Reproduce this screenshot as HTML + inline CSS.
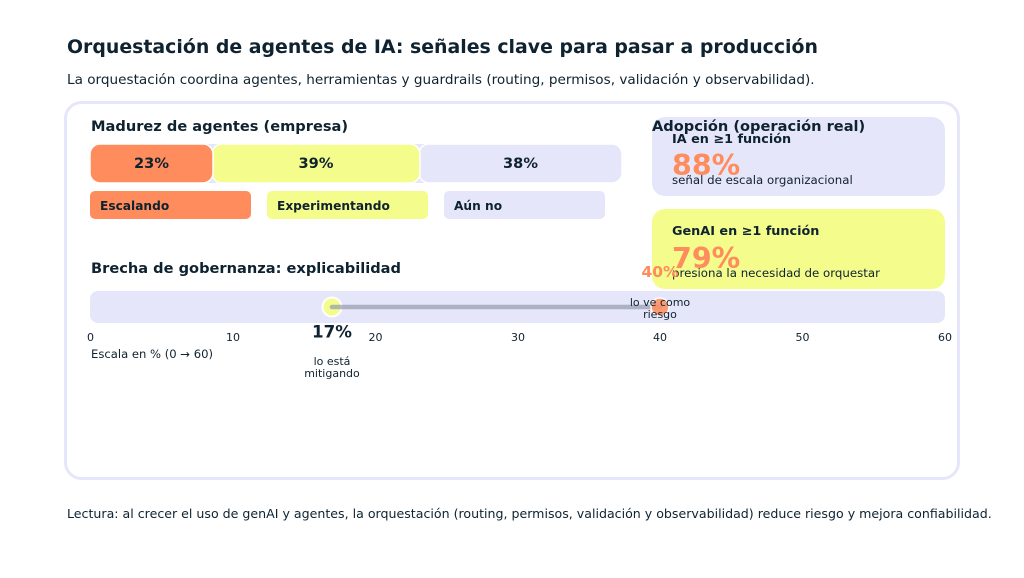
<!DOCTYPE html>
<html><head><meta charset="utf-8">
<style>
html,body{margin:0;padding:0;background:#fff;}
svg{display:block;}
text{font-family:"DejaVu Sans","Liberation Sans",sans-serif;fill:#0e2230;}
.b{font-weight:bold;}
</style></head>
<body>
<svg width="1024" height="578" viewBox="0 0 1024 578" xmlns="http://www.w3.org/2000/svg">
<rect x="0" y="0" width="1024" height="578" fill="#fff"/>
<text class="b" x="67" y="53" font-size="18.9">Orquestación de agentes de IA: señales clave para pasar a producción</text>
<text x="67" y="84" font-size="13.6">La orquestación coordina agentes, herramientas y guardrails (routing, permisos, validación y observabilidad).</text>

<rect x="65.5" y="102.5" width="893" height="376" rx="16" fill="#fff" stroke="#e6e6fa" stroke-width="3"/>

<!-- Madurez -->
<text class="b" x="91" y="131" font-size="14.6">Madurez de agentes (empresa)</text>
<rect x="90" y="144" width="532" height="39" rx="10" fill="#e6e6fa"/>
<rect x="419" y="144" width="203" height="39" rx="10" fill="#e6e6fa" stroke="#fff" stroke-width="1.5"/>
<rect x="212" y="144" width="208" height="39" rx="10" fill="#f4fc8c" stroke="#fff" stroke-width="1.5"/>
<rect x="90" y="144" width="123" height="39" rx="10" fill="#ff8c5c" stroke="#fff" stroke-width="1.5"/>
<text class="b" x="151.5" y="168" font-size="14.6" text-anchor="middle">23%</text>
<text class="b" x="316" y="168" font-size="14.6" text-anchor="middle">39%</text>
<text class="b" x="520.5" y="168" font-size="14.6" text-anchor="middle">38%</text>

<rect x="90" y="191" width="161" height="28" rx="5" fill="#ff8c5c"/>
<rect x="267" y="191" width="161" height="28" rx="5" fill="#f4fc8c"/>
<rect x="444" y="191" width="161" height="28" rx="5" fill="#e6e6fa"/>
<text class="b" x="100" y="210" font-size="12.2">Escalando</text>
<text class="b" x="277" y="210" font-size="12.2">Experimentando</text>
<text class="b" x="454" y="210" font-size="12.2">Aún no</text>

<!-- Adopción cards -->
<rect x="652" y="117" width="293" height="79" rx="13" fill="#e6e6fa"/>
<rect x="652" y="209" width="293" height="80" rx="13" fill="#f4fc8c"/>
<text class="b" x="652" y="131" font-size="14.6">Adopción (operación real)</text>
<text class="b" x="672" y="143" font-size="12.8">IA en ≥1 función</text>
<text class="b" x="672" y="175" font-size="28.5" style="fill:#ff8c5c">88%</text>
<text x="672" y="184" font-size="11.8">señal de escala organizacional</text>
<text class="b" x="672" y="235" font-size="12.8">GenAI en ≥1 función</text>
<text class="b" x="672" y="268" font-size="28.5" style="fill:#ff8c5c">79%</text>
<text x="672" y="277" font-size="11.8">presiona la necesidad de orquestar</text>

<!-- Brecha -->
<text class="b" x="91" y="273" font-size="14.6">Brecha de gobernanza: explicabilidad</text>
<rect x="90" y="291" width="855" height="32" rx="8" fill="#e6e6fa"/>
<circle cx="332" cy="307" r="9.5" fill="#f4fc8c" stroke="#fff" stroke-width="2"/>
<line x1="332" y1="307" x2="660" y2="307" stroke="#98a0b0" stroke-opacity="0.75" stroke-width="4.5" stroke-linecap="round"/>
<circle cx="660" cy="307" r="9" fill="#ff8c5c" fill-opacity="0.85" stroke="#fff" stroke-width="1.5"/>
<text class="b" x="660" y="277" font-size="15.5" text-anchor="middle" style="fill:#ff8c5c">40%</text>
<text x="660" y="306" font-size="11" text-anchor="middle">lo ve como</text>
<text x="660" y="318" font-size="11" text-anchor="middle">riesgo</text>
<text class="b" x="332" y="337.5" font-size="16.7" text-anchor="middle">17%</text>
<text x="332" y="365" font-size="11" text-anchor="middle">lo está</text>
<text x="332" y="377" font-size="11" text-anchor="middle">mitigando</text>

<g font-size="11" text-anchor="middle">
<text x="90.5" y="341">0</text>
<text x="233" y="341">10</text>
<text x="375.5" y="341">20</text>
<text x="518" y="341">30</text>
<text x="660" y="341">40</text>
<text x="802.5" y="341">50</text>
<text x="945" y="341">60</text>
</g>
<text x="91" y="358" font-size="11.6">Escala en % (0 → 60)</text>

<text x="67" y="518" font-size="12.6">Lectura: al crecer el uso de genAI y agentes, la orquestación (routing, permisos, validación y observabilidad) reduce riesgo y mejora confiabilidad.</text>
</svg>
</body></html>
